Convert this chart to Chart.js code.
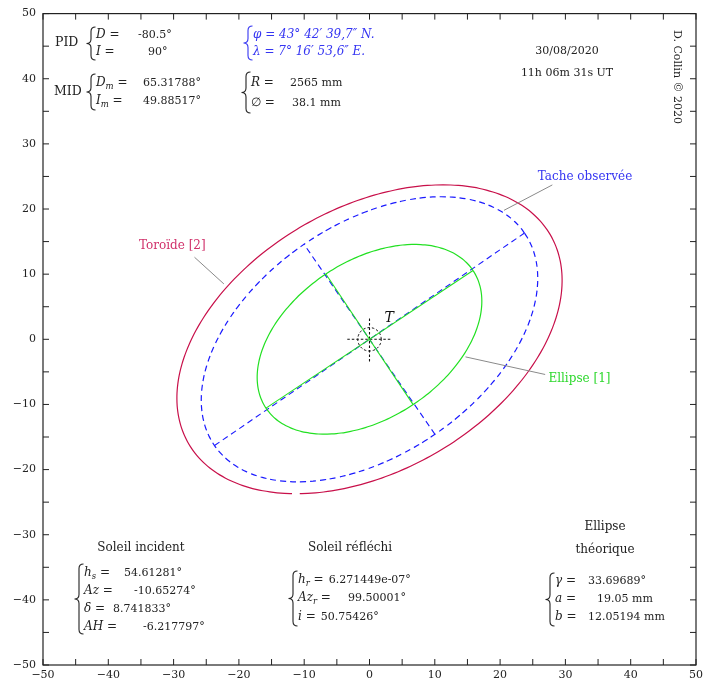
<!DOCTYPE html>
<html>
<head>
<meta charset="utf-8">
<script src="https://cdn.jsdelivr.net/npm/chart.js@4/dist/chart.umd.min.js"></script>
<style>
  body { margin: 0; background: #fff; }
  canvas { display: block; }
</style>
</head>
<body>
<canvas id="chart" width="707" height="683"></canvas>
<script>
// axis ticks
const tickValues = [-50, -40, -30, -20, -10, 0, 10, 20, 30, 40, 50];
const minorStep = 5;

// ellipses: [1] theoretical, observed spot, toroid [2]
const ellipseNames = ["Ellipse [1]", "Tache observée", "Toroïde [2]"];
const ellipseA = [19.05, 28.8, 32.0];
const ellipseB = [12.05194, 17.7, 20.2];
const ellipseAngle = [33.69689, 34.5, 30.0];
const ellipseStart = [0, 0, -132.5];
const ellipseGap = [0, 0, 2.5];
const ellipseColors = ["#22e022", "#1a1aff", "#c8104a"];
const ellipseDash = [[], [6, 4], []];

// target at the centre
const targetRadius = 1.8;
const crossHalf = 3.4;

const ellipsePoints = (i) => {
  const th = (ellipseAngle[i] * Math.PI) / 180;
  const pts = [];
  const t0 = ellipseStart[i] + ellipseGap[i] / 2;
  const t1 = ellipseStart[i] + 360 - ellipseGap[i] / 2;
  for (let d = t0; d <= t1 + 0.001; d += (t1 - t0) / 144) {
    const t = (d * Math.PI) / 180;
    const u = ellipseA[i] * Math.cos(t);
    const v = ellipseB[i] * Math.sin(t);
    pts.push({ x: u * Math.cos(th) - v * Math.sin(th), y: u * Math.sin(th) + v * Math.cos(th) });
  }
  return pts;
};

const axisPoints = (i, major) => {
  const th = (ellipseAngle[i] * Math.PI) / 180;
  const r = major ? ellipseA[i] : ellipseB[i];
  const dx = major ? Math.cos(th) : -Math.sin(th);
  const dy = major ? Math.sin(th) : Math.cos(th);
  return [{ x: -r * dx, y: -r * dy }, { x: r * dx, y: r * dy }];
};

// tension > 0 keeps Chart.js off its x-sorted fast path, which breaks closed curves
const line = (data, color, dash, width, tension) => ({
  data, borderColor: color, borderDash: dash, borderWidth: width || 1.1,
  showLine: true, pointRadius: 0, fill: false, tension: tension || 0
});

const datasets = [];
[2, 0, 1].forEach((i) => datasets.push(line(ellipsePoints(i), ellipseColors[i], ellipseDash[i], 1.2, 0.2)));
datasets.push(line(axisPoints(0, true), ellipseColors[0], []));
datasets.push(line(axisPoints(0, false), ellipseColors[0], []));
datasets.push(line(axisPoints(1, true), ellipseColors[1], [6, 4]));
datasets.push(line(axisPoints(1, false), ellipseColors[1], [6, 4]));

const circle = [];
for (let d = 0; d <= 360; d += 10) {
  circle.push({ x: targetRadius * Math.cos((d * Math.PI) / 180), y: targetRadius * Math.sin((d * Math.PI) / 180) });
}
datasets.push(line(circle, "#111", [2.5, 2], 1, 0.3));
datasets.push(line([{ x: -crossHalf, y: 0 }, { x: crossHalf, y: 0 }], "#111", [2.5, 2]));
datasets.push(line([{ x: 0, y: -crossHalf }, { x: 0, y: crossHalf }], "#111", [2.5, 2]));

const SERIF = "'DejaVu Serif', serif";
const INK = "#222";
const BLUE = "#3535f2";

const fontFor = (kind) => {
  if (kind === "i") return "italic 12px " + SERIF;
  if (kind === "s") return "italic 8.5px " + SERIF;
  if (kind === "n") return "11px " + SERIF;
  return "12px " + SERIF;
};

const rich = (ctx, x, y, parts, color) => {
  ctx.fillStyle = color;
  ctx.textAlign = "left";
  ctx.textBaseline = "middle";
  parts.forEach(([txt, kind]) => {
    ctx.font = fontFor(kind);
    ctx.fillText(txt, x, kind === "s" ? y + 3.5 : y);
    x += ctx.measureText(txt).width;
  });
  return x;
};

const row = (ctx, x, y, vars, valX, val, color) => {
  const end = rich(ctx, x, y, vars.concat([[" =", "r"]]), color || INK);
  rich(ctx, Math.max(valX, end + 5), y, [[val, "n"]], color || INK);
};

const brace = (ctx, x, y0, y1, color) => {
  const w = 4.5;
  const mid = (y0 + y1) / 2;
  ctx.strokeStyle = color || INK;
  ctx.lineWidth = 1.1;
  ctx.setLineDash([]);
  ctx.beginPath();
  ctx.moveTo(x + w, y0);
  ctx.quadraticCurveTo(x, y0, x, y0 + w);
  ctx.lineTo(x, mid - w);
  ctx.quadraticCurveTo(x, mid, x - w, mid);
  ctx.quadraticCurveTo(x, mid, x, mid + w);
  ctx.lineTo(x, y1 - w);
  ctx.quadraticCurveTo(x, y1, x + w, y1);
  ctx.stroke();
};

const centered = (ctx, txt, x, y, font, color) => {
  ctx.font = font;
  ctx.fillStyle = color || INK;
  ctx.textAlign = "center";
  ctx.textBaseline = "middle";
  ctx.fillText(txt, x, y);
};

const decorations = {
  id: "decorations",
  afterDraw(chart) {
    const { ctx, chartArea: a, scales } = chart;
    const xs = scales.x;
    const ys = scales.y;
    const X = (v) => xs.getPixelForValue(v);
    const Y = (v) => ys.getPixelForValue(v);
    ctx.save();

    // frame and inward ticks on all four sides
    ctx.strokeStyle = INK;
    ctx.lineWidth = 1.2;
    ctx.setLineDash([]);
    ctx.strokeRect(a.left, a.top, a.right - a.left, a.bottom - a.top);
    ctx.lineWidth = 1;
    ctx.beginPath();
    for (let v = tickValues[0]; v <= tickValues[tickValues.length - 1]; v += minorStep) {
      const px = X(v);
      const py = Y(v);
      ctx.moveTo(px, a.bottom); ctx.lineTo(px, a.bottom - 6);
      ctx.moveTo(px, a.top); ctx.lineTo(px, a.top + 6);
      ctx.moveTo(a.left, py); ctx.lineTo(a.left + 6, py);
      ctx.moveTo(a.right, py); ctx.lineTo(a.right - 6, py);
    }
    ctx.stroke();

    // leader lines and labels
    ctx.strokeStyle = "#8a8a8a";
    ctx.beginPath();
    ctx.moveTo(X(-26.8), Y(12.6)); ctx.lineTo(X(-22.3), Y(8.5));
    ctx.moveTo(X(28.0), Y(23.7)); ctx.lineTo(X(20.6), Y(19.8));
    ctx.moveTo(X(14.7), Y(-2.7)); ctx.lineTo(X(26.9), Y(-5.4));
    ctx.stroke();
    centered(ctx, ellipseNames[2], X(-30.2), Y(14.4), "12px " + SERIF, "#d0306a");
    centered(ctx, ellipseNames[1], X(33.0), Y(25.0), "12px " + SERIF, BLUE);
    ctx.font = "12px " + SERIF;
    ctx.fillStyle = "#2ed82e";
    ctx.textAlign = "left";
    ctx.fillText(ellipseNames[0], X(27.4), Y(-6.1));
    ctx.font = "italic 14px " + SERIF;
    ctx.fillStyle = "#111";
    ctx.fillText("T", X(2.3), Y(3.2));

    // top-left: PID / MID
    ctx.font = "12.5px " + SERIF;
    ctx.fillStyle = INK;
    ctx.fillText("PID", 55, 43);
    ctx.fillText("MID", 54, 92);
    brace(ctx, 91, 27, 60);
    row(ctx, 96, 35, [["D", "i"]], 138, "-80.5°");
    row(ctx, 96, 52, [["I", "i"]], 148, "90°");
    brace(ctx, 91, 74, 110);
    row(ctx, 96, 83, [["D", "i"], ["m", "s"]], 143, "65.31788°");
    row(ctx, 96, 101, [["I", "i"], ["m", "s"]], 143, "49.88517°");

    // location
    brace(ctx, 248, 26, 60, BLUE);
    rich(ctx, 253, 35, [["φ = 43° 42′ 39,7″ ", "i"], ["N.", "i"]], BLUE);
    rich(ctx, 253, 52, [["λ = 7° 16′ 53,6″ ", "i"], ["E.", "i"]], BLUE);
    brace(ctx, 246, 72, 113);
    row(ctx, 251, 83, [["R", "i"]], 290, "2565 mm");
    row(ctx, 251, 103, [["∅", "r"]], 292, "38.1 mm");

    // date and credit
    centered(ctx, "30/08/2020", 567, 51, "11px " + SERIF);
    centered(ctx, "11h 06m 31s UT", 567, 73, "11px " + SERIF);
    ctx.save();
    ctx.translate(677, 77);
    ctx.rotate(Math.PI / 2);
    centered(ctx, "D. Collin © 2020", 0, 0, "11px " + SERIF);
    ctx.restore();

    // sun incident
    centered(ctx, "Soleil incident", 141, 548, "12px " + SERIF);
    brace(ctx, 79, 564, 634);
    row(ctx, 84, 573, [["h", "i"], ["s", "s"]], 124, "54.61281°");
    row(ctx, 84, 591, [["Az", "i"]], 134, "-10.65274°");
    row(ctx, 84, 609, [["δ", "i"]], 113, "8.741833°");
    row(ctx, 84, 627, [["AH", "i"]], 143, "-6.217797°");

    // sun reflected
    centered(ctx, "Soleil réfléchi", 350, 548, "12px " + SERIF);
    brace(ctx, 293, 571, 626);
    row(ctx, 298, 580, [["h", "i"], ["r", "s"]], 326, "6.271449e-07°");
    row(ctx, 298, 598, [["Az", "i"], ["r", "s"]], 348, "99.50001°");
    row(ctx, 298, 617, [["i", "i"]], 315, "50.75426°");

    // theoretical ellipse
    centered(ctx, "Ellipse", 605, 527, "12px " + SERIF);
    centered(ctx, "théorique", 605, 550, "12px " + SERIF);
    brace(ctx, 550, 573, 626);
    row(ctx, 555, 581, [["γ", "i"]], 588, "33.69689°");
    row(ctx, 555, 599, [["a", "i"]], 597, "19.05 mm");
    row(ctx, 555, 617, [["b", "i"]], 588, "12.05194 mm");

    ctx.restore();
  }
};

const tickFont = { family: SERIF, size: 11 };
const minus = (v) => String(v).replace("-", "−");

new Chart(document.getElementById("chart"), {
  type: "scatter",
  data: { datasets },
  options: {
    responsive: false,
    animation: false,
    events: [],
    layout: { padding: { top: 12, right: 10, left: 0, bottom: 0 } },
    plugins: { legend: { display: false }, tooltip: { enabled: false } },
    scales: {
      x: {
        type: "linear", min: tickValues[0], max: tickValues[tickValues.length - 1],
        afterBuildTicks: (s) => { s.ticks = tickValues.map((value) => ({ value })); },
        ticks: { color: INK, font: tickFont, padding: 4, maxRotation: 0, callback: minus },
        grid: { display: false, drawTicks: false },
        border: { display: false },
        afterFit: (s) => { s.height = 18; }
      },
      y: {
        type: "linear", min: tickValues[0], max: tickValues[tickValues.length - 1],
        afterBuildTicks: (s) => { s.ticks = tickValues.map((value) => ({ value })); },
        ticks: { color: INK, font: tickFont, padding: 7, callback: minus },
        grid: { display: false, drawTicks: false },
        border: { display: false },
        afterFit: (s) => { s.width = 43; }
      }
    }
  },
  plugins: [decorations]
});
</script>
</body>
</html>
